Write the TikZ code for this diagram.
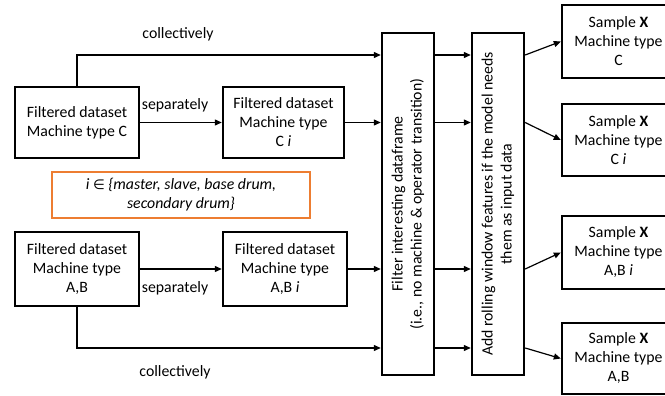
\documentclass[tikz,border=0pt]{standalone}
\usepackage{fontspec}
\setmainfont{Carlito}
\newfontfamily\symfont{DejaVu Sans}
\usetikzlibrary{arrows.meta}
\definecolor{accent}{RGB}{237,125,49}

\begin{document}
\begin{tikzpicture}[x=1pt,y=-1pt,
  font=\fontsize{15.8}{19}\selectfont,
  box/.style={draw, line width=2.4pt, align=center, inner sep=0pt},
  arr/.style={-{Triangle[length=7pt,width=6pt]}, line width=1.2pt},
  lbl/.style={inner sep=0pt, align=center}]
\useasboundingbox (0,0) rectangle (665,396);

% input datasets
\node[box, minimum width=124, minimum height=71] (dC)  at (77,122.5) {Filtered dataset\\Machine type C};
\node[box, minimum width=121, minimum height=71] (dCi) at (283.5,122.5) {Filtered dataset\\Machine type\\C \textit{i}};
\node[box, minimum width=124, minimum height=74] (dAB)  at (77,269) {Filtered dataset\\Machine type\\A,B};
\node[box, minimum width=124, minimum height=74] (dABi) at (285,269) {Filtered dataset\\Machine type\\A,B \textit{i}};

% definition of i
\node[draw=accent, line width=2pt, minimum width=258, minimum height=46, lbl] (def) at (181,195)
  {\itshape i {\symfont\upshape\fontsize{13.5}{19}\selectfont ∈} \{master, slave, base drum,\\\itshape secondary drum\}};

% processing stages
\node[box, minimum width=52, minimum height=342] (filter) at (408,204) {};
\node[lbl, rotate=90] (filtertxt) at (filter.center) {Filter interesting dataframe\\(i.e., no machine \& operator transition)};
\node[box, minimum width=52, minimum height=342] (roll) at (498,204) {};
\node[lbl, rotate=90] (rolltxt) at (roll.center) {Add rolling window features if the model needs\\them as input data};

% output samples
\node[box, minimum width=113, minimum height=73] (sC)   at (618.5,41.5) {Sample \textbf{X}\\Machine type\\C};
\node[box, minimum width=113, minimum height=72] (sCi)  at (618.5,140) {Sample \textbf{X}\\Machine type\\C \textit{i}};
\node[box, minimum width=113, minimum height=73] (sABi) at (618.5,252.5) {Sample \textbf{X}\\Machine type\\A,B \textit{i}};
\node[box, minimum width=113, minimum height=71] (sAB)  at (618.5,358.5) {Sample \textbf{X}\\Machine type\\A,B};

% flow rows
\coordinate (r1) at (0,55);
\coordinate (r2) at (0,122.5);
\coordinate (r3) at (0,269);
\coordinate (r4) at (0,348);

\draw[arr] (dC.north) |- (filter.west |- r1);
\draw[arr] (dC.east) -- (dCi.west);
\draw[arr] (dCi.east) -- (filter.west |- r2);
\draw[arr] (dAB.east) -- (dABi.west);
\draw[arr] (dABi.east) -- (filter.west |- r3);
\draw[arr] (dAB.south) |- (filter.west |- r4);

\foreach \r in {r1,r2,r3,r4}
  \draw[arr] (filter.east |- \r) -- (roll.west |- \r);

\draw[arr] (roll.east |- r1) -- (sC.west);
\draw[arr] (roll.east |- r2) -- (sCi.west);
\draw[arr] (roll.east |- r3) -- (sABi.west);
\draw[arr] (roll.east |- r4) -- (sAB.west);

% branch labels
\node[lbl] (l1) at (178,34) {collectively};
\node[lbl] (l2) at (175,105) {separately};
\node[lbl] (l3) at (175,288) {separately};
\node[lbl] (l4) at (175,372) {collectively};
\end{tikzpicture}
\end{document}
